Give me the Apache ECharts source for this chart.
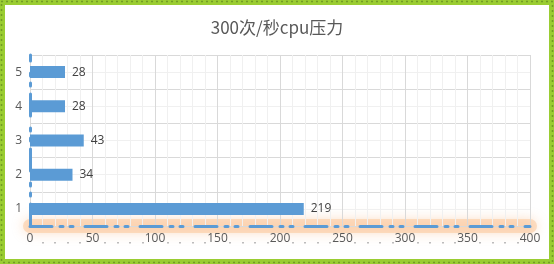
<!DOCTYPE html>
<html><head><meta charset="utf-8">
<script src="https://cdn.jsdelivr.net/npm/echarts@6/dist/echarts.min.js"></script>
<style>html,body{margin:0;padding:0;background:#fff}#c{width:554px;height:264px}</style>
</head><body><div id="c"></div>
<script>
const titleText = '300次/秒cpu压力';
const categories = ['1','2','3','4','5'];
const values = [219, 34, 43, 28, 28];
const xMin = 0, xMax = 400, xStep = 50;

const chart = echarts.init(document.getElementById('c'));
const dashDot = [22, 8, 3, 7, 3, 12];
chart.setOption({
  animation: false,
  backgroundColor: '#fff',
  title: { text: titleText, left: 'center', top: 14, textStyle: { fontFamily: 'Noto Sans CJK SC', fontSize: 17, fontWeight: 'normal', color: '#595959' } },
  grid: { left: 30, right: 24, top: 55, bottom: 38, containLabel: false },
  xAxis: [{
    type: 'value', min: xMin, max: xMax, interval: xStep,
    axisLine: { show: true, lineStyle: { color: '#5B9BD5', width: 3, type: dashDot } },
    axisTick: { show: false },
    axisLabel: { color: '#595959', fontSize: 12, fontFamily: 'Open Sans', margin: 7 },
    splitLine: { show: true, lineStyle: { color: '#d9d9d9', width: 1 } },
    minorTick: { show: false, splitNumber: 5 },
    minorSplitLine: { show: true, lineStyle: { color: '#f0f0f0', width: 1 } }
  }, {
    type: 'value', min: xMin, max: xMax, interval: xStep, position: 'bottom', offset: 16,
    axisLine: { show: false }, axisTick: { show: false }, axisLabel: { show: false }, splitLine: { show: false },
    minorTick: { show: true, splitNumber: 5, length: 1.5, lineStyle: { color: '#a6a6a6', width: 1.5 } }
  }, {
    type: 'value', min: xMin, max: xMax, interval: xStep, position: 'bottom', offset: 0,
    axisLine: { show: true, lineStyle: { color: 'rgba(250,190,140,0.45)', width: 14, shadowColor: 'rgba(245,160,90,0.75)', shadowBlur: 12 } },
    axisTick: { show: false }, axisLabel: { show: false }, splitLine: { show: false }, z: -1
  }],
  yAxis: [{
    type: 'category', data: categories,
    axisLine: { show: true, lineStyle: { color: '#5B9BD5', width: 3, type: dashDot } },
    axisTick: { show: false },
    axisLabel: { color: '#595959', fontSize: 12, fontFamily: 'Open Sans', margin: 8 },
    splitLine: { show: false }
  }, {
    type: 'value', min: 0, max: 10, interval: 1, position: 'right',
    axisLine: { show: false }, axisTick: { show: false }, axisLabel: { show: false },
    splitLine: { show: true, lineStyle: { color: ['#d9d9d9', '#f0f0f0'], width: 1 } }
  }],
  series: [{
    type: 'bar', data: values, xAxisIndex: 0, yAxisIndex: 0, barWidth: 12,
    itemStyle: { color: '#5B9BD5' },
    label: { show: true, position: 'right', distance: 7, color: '#404040', fontSize: 12, fontFamily: 'Open Sans' }
  }],
  graphic: [
    { type: 'rect', shape: { x: 2.5, y: 2.5, width: 549, height: 259 }, style: { fill: 'none', stroke: '#9acd32', lineWidth: 5 }, z: 100 },
    { type: 'rect', shape: { x: 1.5, y: 1.5, width: 551, height: 261 }, style: { fill: 'none', stroke: '#4d6b1a', lineWidth: 1.5, lineDash: [1, 4] }, z: 101 }
  ]
});
</script></body></html>
